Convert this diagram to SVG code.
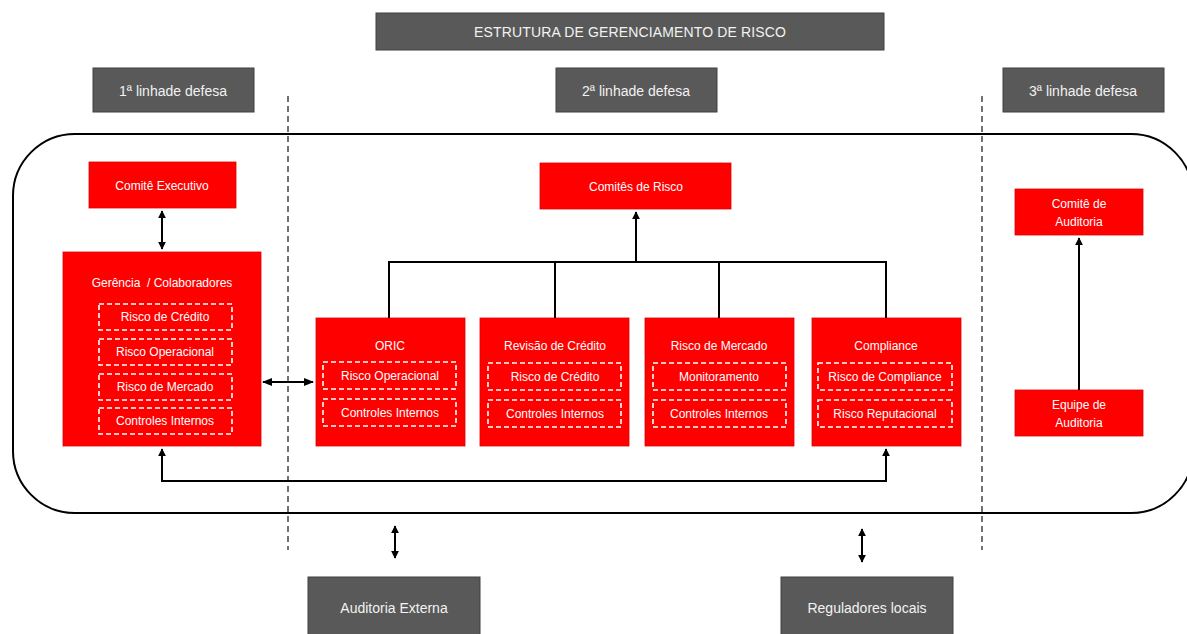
<svg xmlns="http://www.w3.org/2000/svg" width="1187" height="634" viewBox="0 0 1187 634">
<style>
.grey{fill:#595959;stroke:#404040;stroke-width:1}
.red{fill:#ff0000;stroke:#e00000;stroke-width:0.8}
.dash{fill:none;stroke:#ffffff;stroke-width:1.6;stroke-dasharray:5,3}
.gt{font-family:"Liberation Sans",Arial,sans-serif;font-size:14px;fill:#f2f2f2;text-anchor:middle;dominant-baseline:central}
.rt{font-family:"Liberation Sans",Arial,sans-serif;font-size:12px;fill:#ffffff;text-anchor:middle;dominant-baseline:central}
.conn{fill:none;stroke:#000000;stroke-width:2}
.sep{fill:none;stroke:#444444;stroke-width:1.5;stroke-dasharray:6,4}
</style>
<defs>
<marker id="ah" viewBox="0 0 10 10" refX="9" refY="5" markerWidth="4" markerHeight="4" orient="auto-start-reverse">
<path d="M0,0 L10,5 L0,10 z" fill="#000"/>
</marker>
<marker id="ahs" viewBox="0 0 10 10" refX="9" refY="5" markerWidth="5" markerHeight="5" orient="auto-start-reverse">
<path d="M0,1 L10,5 L0,9 z" fill="#000"/>
</marker>
</defs>
<rect width="1187" height="634" fill="#ffffff"/>

<g id="frame">
<rect x="13" y="134" width="1180" height="379" rx="62" ry="62" fill="none" stroke="#000" stroke-width="2"/>
<line class="sep" x1="288" y1="96" x2="288" y2="550"/>
<line class="sep" x1="982" y1="96" x2="982" y2="550"/>
</g>

<g id="title"><rect class="grey" x="376" y="13" width="508" height="37"/><text class="gt" x="630" y="32" font-size="13" textLength="312">ESTRUTURA DE GERENCIAMENTO DE RISCO</text></g>
<g id="linha1"><rect class="grey" x="93" y="68" width="161" height="44"/><text class="gt" x="173" y="91">1ª linhade defesa</text></g>
<g id="linha2"><rect class="grey" x="556" y="68" width="161" height="44"/><text class="gt" x="636" y="91">2ª linhade defesa</text></g>
<g id="linha3"><rect class="grey" x="1003" y="68" width="161" height="44"/><text class="gt" x="1083" y="91">3ª linhade defesa</text></g>

<g id="comite-executivo"><rect class="red" x="89" y="162" width="147" height="46"/><text class="rt" x="162" y="186">Comitê Executivo</text></g>

<g id="gerencia">
<rect class="red" x="63" y="252" width="198" height="194"/>
<text class="rt" x="162" y="283" style="white-space:pre">Gerência  / Colaboradores</text>
<rect class="dash" x="99" y="304" width="133" height="26"/><text class="rt" x="165" y="317">Risco de Crédito</text>
<rect class="dash" x="99" y="339" width="133" height="26"/><text class="rt" x="165" y="352">Risco Operacional</text>
<rect class="dash" x="99" y="374" width="133" height="26"/><text class="rt" x="165" y="387">Risco de Mercado</text>
<rect class="dash" x="99" y="408" width="133" height="26"/><text class="rt" x="165" y="421">Controles Internos</text>
</g>

<g id="comites-risco"><rect class="red" x="540" y="163" width="191" height="46"/><text class="rt" x="636" y="187">Comitês de Risco</text></g>

<g id="oric">
<rect class="red" x="316" y="318" width="149" height="128"/>
<text class="rt" x="390" y="346">ORIC</text>
<rect class="dash" x="323" y="362" width="133" height="27"/><text class="rt" x="390" y="376">Risco Operacional</text>
<rect class="dash" x="323" y="399" width="133" height="27"/><text class="rt" x="390" y="413">Controles Internos</text>
</g>

<g id="revisao">
<rect class="red" x="480" y="318" width="149" height="128"/>
<text class="rt" x="555" y="346">Revisão de Crédito</text>
<rect class="dash" x="488" y="363" width="133" height="27"/><text class="rt" x="555" y="377">Risco de Crédito</text>
<rect class="dash" x="488" y="400" width="133" height="27"/><text class="rt" x="555" y="414">Controles Internos</text>
</g>

<g id="mercado">
<rect class="red" x="645" y="318" width="149" height="128"/>
<text class="rt" x="719" y="346">Risco de Mercado</text>
<rect class="dash" x="653" y="363" width="133" height="27"/><text class="rt" x="719" y="377">Monitoramento</text>
<rect class="dash" x="653" y="400" width="133" height="27"/><text class="rt" x="719" y="414">Controles Internos</text>
</g>

<g id="compliance">
<rect class="red" x="812" y="318" width="149" height="128"/>
<text class="rt" x="886" y="346">Compliance</text>
<rect class="dash" x="818" y="363" width="134" height="27"/><text class="rt" x="885" y="377">Risco de Compliance</text>
<rect class="dash" x="818" y="400" width="134" height="27"/><text class="rt" x="885" y="414">Risco Reputacional</text>
</g>

<g id="comite-auditoria"><rect class="red" x="1015" y="189" width="128" height="46"/><text class="rt" x="1079" y="204">Comitê de</text><text class="rt" x="1079" y="222">Auditoria</text></g>
<g id="equipe-auditoria"><rect class="red" x="1015" y="390" width="128" height="46"/><text class="rt" x="1079" y="405">Equipe de</text><text class="rt" x="1079" y="423">Auditoria</text></g>

<g id="auditoria-externa"><rect class="grey" x="308" y="577" width="172" height="62"/><text class="gt" x="394" y="608">Auditoria Externa</text></g>
<g id="reguladores"><rect class="grey" x="781" y="577" width="172" height="62"/><text class="gt" x="867" y="608">Reguladores locais</text></g>

<g id="connectors">
<line class="conn" x1="162" y1="211" x2="162" y2="249" stroke-width="1.8" marker-start="url(#ah)" marker-end="url(#ah)"/>
<line class="conn" x1="263" y1="382" x2="313" y2="382" stroke-width="1.2" marker-start="url(#ahs)" marker-end="url(#ahs)"/>
<polyline class="conn" points="389,318 389,262 886,262 886,318"/>
<line class="conn" x1="555" y1="262" x2="555" y2="318"/>
<line class="conn" x1="719" y1="262" x2="719" y2="318"/>
<line class="conn" x1="636" y1="262" x2="636" y2="212" stroke-width="2.5" marker-end="url(#ah)"/>
<polyline class="conn" points="162,449 162,481 886,481 886,449" marker-start="url(#ah)" marker-end="url(#ah)"/>
<line class="conn" x1="1079" y1="390" x2="1079" y2="238" marker-end="url(#ah)"/>
<line class="conn" x1="395" y1="526" x2="395" y2="558" stroke-width="2.5" marker-start="url(#ah)" marker-end="url(#ah)"/>
<line class="conn" x1="862" y1="529" x2="862" y2="562" stroke-width="2.5" marker-start="url(#ah)" marker-end="url(#ah)"/>
</g>
</svg>
